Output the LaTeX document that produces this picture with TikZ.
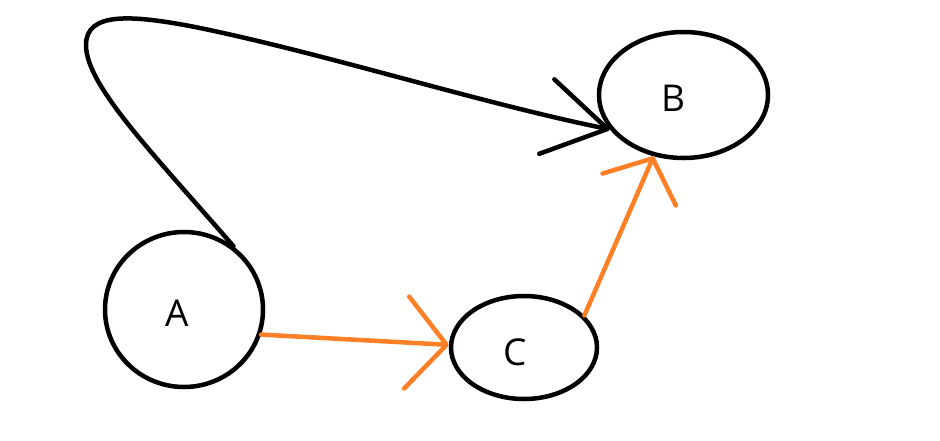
\documentclass[tikz,border=0pt]{standalone}
\usepackage{fontspec}
\setmainfont{Open Sans}
\usetikzlibrary{arrows.meta,shapes.geometric}
\definecolor{paintorange}{RGB}{255,127,39}
\begin{document}
\begin{tikzpicture}[x=1pt,y=-1pt,
  circ/.style={draw=black,line width=4.5pt,ellipse,inner sep=0pt},
  lbl/.style={font=\fontsize{37}{37}\selectfont,inner sep=0pt},
  blackarrow/.style={draw=black,line width=4.5pt,line cap=round,
    -{Straight Barb[length=62pt,width=76pt,line cap=round,line join=round]}},
  orangearrow/.style={draw=paintorange,line width=4.5pt,line cap=round,
    -{Straight Barb[length=40pt,width=92pt,line cap=round,line join=round]}},
  orangearrowb/.style={draw=paintorange,line width=4.5pt,line cap=round,
    -{Straight Barb[length=34pt,width=80pt,line cap=round,line join=round]}}]
\useasboundingbox (0,0) rectangle (940,440);
\node[circ,minimum width=158pt,minimum height=155pt] (A) at (184,309.5) {};
\node[circ,minimum width=169pt,minimum height=126pt] (B) at (683.5,95) {};
\node[circ,minimum width=146pt,minimum height=103pt] (C) at (524,347.5) {};
\node[lbl] (la) at (177,313) {A};
\node[lbl] (lb) at (673,98) {B};
\node[lbl] (lc) at (515,352) {C};
\draw[blackarrow] (A.52) .. controls (150,150) and (86,85) .. (86,45)
  .. controls (86,12) and (130,14) .. (200,28)
  .. controls (330,55) and (480,103) .. (B.-155);
\draw[orangearrow] (A.-18) -- (C.178);
\draw[orangearrowb] (C.28) -- (B.-116);
\end{tikzpicture}
\end{document}
